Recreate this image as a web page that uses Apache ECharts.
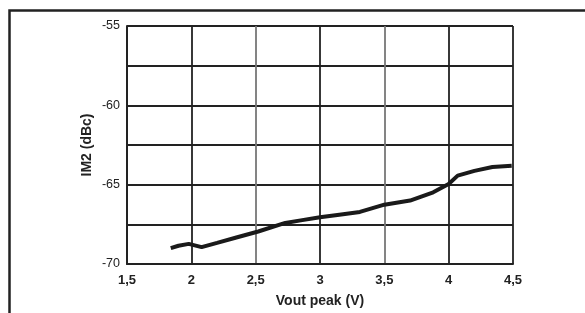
<!DOCTYPE html>
<html>
<head>
<meta charset="utf-8">
<script src="https://cdn.jsdelivr.net/npm/echarts@6/dist/echarts.min.js"></script>
<style>
  html, body { margin: 0; padding: 0; background: #fff; }
  #chart { width: 585px; height: 313px; }
</style>
</head>
<body>
<div id="chart"></div>
<script>
// curve
var voutPeak = [1.84, 1.90, 1.98, 2.08, 2.20, 2.35, 2.52, 2.73, 2.85, 3.00, 3.15, 3.31, 3.50, 3.70, 3.88, 4.00, 4.07, 4.20, 4.34, 4.49];
var im2 = [-69.0, -68.85, -68.73, -68.94, -68.67, -68.33, -67.95, -67.41, -67.25, -67.05, -66.89, -66.72, -66.26, -66.0, -65.48, -64.96, -64.43, -64.13, -63.89, -63.81];

var xMin = 1.5, xMax = 4.5, xStep = 0.5;
var yMin = -70, yMax = -55, yStep = 2.5;

var chartDom = document.getElementById('chart');
var myChart = echarts.init(chartDom);
var option;

var font = 'Liberation Sans, Arial, sans-serif';

option = {
    animation: false,
    backgroundColor: '#fff',
    grid: { left: 127, right: 72, top: 26, bottom: 49 },
    graphic: [
        {
            type: 'rect',
            shape: { x: 9.5, y: 10.5, width: 700, height: 400 },
            style: { fill: 'none', stroke: '#222', lineWidth: 2.5 },
            silent: true
        }
    ],
    xAxis: {
        type: 'value',
        min: xMin,
        max: xMax,
        interval: xStep,
        name: 'Vout peak (V)',
        nameLocation: 'middle',
        nameGap: 30,
        nameTextStyle: { fontFamily: font, fontWeight: 'bold', fontSize: 14, color: '#222' },
        axisLine: { show: true, lineStyle: { color: '#222', width: 2 } },
        axisTick: { show: false },
        axisLabel: {
            margin: 10,
            fontFamily: font, fontWeight: 'bold', fontSize: 13, color: '#222',
            formatter: function (v) { return String(v).replace('.', ','); }
        },
        splitLine: {
            show: true,
            lineStyle: { color: ['#222', '#222', '#777', '#222', '#777', '#222', '#222'], width: 1.8 }
        }
    },
    yAxis: {
        type: 'value',
        min: yMin,
        max: yMax,
        interval: yStep,
        name: 'IM2 (dBc)',
        nameLocation: 'middle',
        nameGap: 33,
        nameMoveOverlap: false,
        nameTextStyle: { fontFamily: font, fontWeight: 'bold', fontSize: 14, color: '#222' },
        axisLine: { show: true, lineStyle: { color: '#222', width: 2 } },
        axisTick: { show: false },
        axisLabel: {
            margin: 7,
            fontFamily: font, fontSize: 12.5, color: '#222',
            formatter: function (v) { return v % 5 === 0 ? String(v) : ''; }
        },
        splitLine: { show: true, lineStyle: { color: '#222', width: 1.8 } }
    },
    series: [
        {
            type: 'line',
            data: voutPeak.map(function (x, i) { return [x, im2[i]]; }),
            showSymbol: false,
            symbol: 'none',
            lineStyle: { color: '#1a1a1a', width: 4 },
            z: 5
        }
    ]
};

option && myChart.setOption(option);
</script>
</body>
</html>
